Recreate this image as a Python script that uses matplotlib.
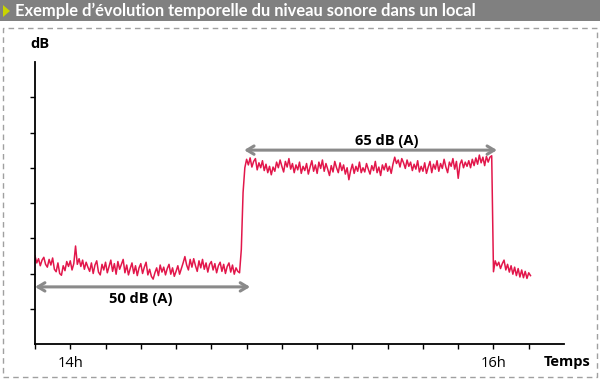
import numpy as np
import matplotlib
matplotlib.use('Agg')
import matplotlib.pyplot as plt
from matplotlib.patches import Rectangle, Polygon

plt.rcParams['font.family'] = ['Open Sans', 'DejaVu Sans']

# sound level, one sample every 30 s starting 13h50 (arbitrary vertical units)
step_min = 0.5
level = [
    # quiet period
    2.50, 2.30, 2.42, 2.22, 2.38, 2.46, 2.26, 2.18, 2.40, 2.24,
    2.44, 2.12, 2.05, 2.30, 2.00, 1.95, 2.22, 2.08, 2.34, 2.20,
    2.36, 2.10, 2.28, 2.78, 2.26, 2.42, 2.20, 2.38, 2.12, 2.32,
    2.18, 2.06, 2.30, 2.00, 2.24, 2.36, 2.04, 1.96, 2.26, 2.10,
    2.32, 2.02, 2.20, 2.38, 2.06, 2.28, 1.98, 2.34, 2.12, 2.26,
    2.40, 2.02, 2.24, 1.96, 2.14, 2.30, 2.00, 2.22, 1.94, 2.16,
    2.28, 2.00, 2.18, 2.32, 1.96, 2.12, 1.92, 1.84, 2.02, 2.16,
    1.94, 2.24, 2.04, 2.18, 1.96, 2.14, 2.26, 1.98, 2.16, 1.92,
    2.06, 2.22, 1.98, 2.14, 2.30, 2.48, 2.24, 2.10, 2.40, 2.18,
    2.42, 2.22, 2.06, 2.36, 2.16, 2.40, 2.12, 2.30, 2.04, 2.26,
    2.34, 2.10, 2.28, 2.02, 2.22, 2.32, 2.06, 2.26, 2.00, 2.20,
    2.30, 2.04, 2.24, 1.98, 2.16, 2.06, 2.02, 2.68, 4.30,
    # loud period
    5.00, 5.24, 5.08, 5.28, 5.02, 5.18, 5.26, 4.94, 5.14, 5.00,
    5.20, 4.92, 5.10, 4.86, 5.04, 4.80, 5.02, 4.90, 5.16, 5.00,
    5.22, 5.04, 4.88, 5.18, 5.02, 5.26, 4.96, 5.12, 4.86, 5.08,
    4.94, 5.16, 4.84, 5.04, 4.92, 5.12, 4.82, 5.02, 5.20, 4.90,
    5.08, 4.84, 5.16, 4.98, 5.22, 4.90, 5.12, 4.96, 4.78, 5.06,
    4.88, 5.18, 5.00, 4.86, 5.14, 4.92, 5.08, 4.82, 5.00, 4.66,
    4.92, 5.10, 4.84, 5.04, 4.90, 5.16, 4.86, 5.00, 4.88, 5.12,
    4.96, 4.82, 5.06, 4.92, 5.18, 4.86, 5.02, 4.78, 5.08, 4.94,
    5.12, 4.90, 5.04, 4.84, 5.10, 5.30, 5.12, 5.22, 5.02, 5.26,
    5.14, 4.98, 5.22, 5.04, 5.16, 4.92, 5.10, 4.96, 5.20, 4.88,
    5.04, 4.90, 5.14, 4.84, 5.02, 5.18, 4.86, 5.10, 4.96, 5.20,
    4.90, 5.12, 4.98, 5.24, 5.02, 4.86, 5.16, 5.04, 5.26, 4.96,
    5.18, 4.70, 5.10, 5.22, 5.00, 5.16, 5.04, 5.20, 5.00, 5.24,
    5.06, 5.28, 5.10, 5.36, 5.14, 5.30, 5.06, 5.32, 5.16, 5.30,
    5.34,
    # quiet again
    2.05, 2.36, 2.22, 2.32, 2.14, 2.28, 2.38, 2.10, 2.26, 2.04,
    2.22, 1.98, 2.18, 1.94, 2.14, 1.90, 2.10, 1.88, 2.06, 1.86,
    2.02, 1.94,
]
t = np.arange(len(level)) * step_min

x_ticks = list(range(0, 150, 10))
x_labels = {10: '14h', 130: '16h'}
y_ticks = [1, 2, 3, 4, 5, 6, 7]

# spans marked with arrows: (start, end, height, label)
quiet_span = (0, 61, 1.62, '50 dB (A)')
loud_span = (59.3, 131, 5.5, '65 dB (A)')

red = '#e2174b'
grey = '#8a8a8a'

fig = plt.figure(figsize=(6, 3.8), dpi=100)

# title band
fig.patches.append(Rectangle((0, 1 - 21 / 380), 1, 21 / 380, transform=fig.transFigure,
                             facecolor='#808080', edgecolor='none', zorder=0))
fig.patches.append(Polygon([(3 / 600, 1 - 5 / 380), (3 / 600, 1 - 17 / 380), (10 / 600, 1 - 11 / 380)],
                           closed=True, transform=fig.transFigure, facecolor='#c8d400',
                           edgecolor='none', zorder=1))
fig.text(15 / 600, 1 - 11 / 380, 'Exemple d\u2019évolution temporelle du niveau sonore dans un local',
         color='white', fontsize=11.9, fontweight='bold', va='center', ha='left',
         family=['Lato', 'DejaVu Sans'])

# dashed frame
fig.patches.append(Rectangle((2.5 / 600, 3 / 380), 594.5 / 600, 349 / 380, transform=fig.transFigure,
                             facecolor='none', edgecolor='#a0a0a0', lw=1, ls=(0, (4, 3))))

ax = fig.add_axes([35 / 600, 1 - 344 / 380, 529 / 600, 282 / 380])
ax.plot(t, level, color=red, lw=1.1)

ax.set_xlim(0, 150)
ax.set_ylim(0, 8)
ax.spines['top'].set_visible(False)
ax.spines['right'].set_visible(False)
for s in ('left', 'bottom'):
    ax.spines[s].set_linewidth(1.3)
ax.set_xticks(x_ticks)
ax.set_xticklabels([x_labels.get(v, '') for v in x_ticks], fontsize=10.5)
ax.set_yticks(y_ticks)
ax.set_yticklabels([])
ax.tick_params(direction='out', length=3.5, width=1, pad=5)

for x0, x1, y, lab in (quiet_span, loud_span):
    ax.annotate('', xy=(x0, y), xytext=(x1, y),
                arrowprops=dict(arrowstyle='<->,head_length=0.5,head_width=0.3', color=grey, lw=2.2,
                                shrinkA=0, shrinkB=0))
ax.text((quiet_span[0] + quiet_span[1]) / 2 - 0.6, quiet_span[2] - 0.33, quiet_span[3],
        ha='center', va='center', fontsize=10.5, fontweight='bold')
ax.text((loud_span[0] + loud_span[1]) / 2 + 4.7, loud_span[2] + 0.26, loud_span[3],
        ha='center', va='center', fontsize=10.5, fontweight='bold')

fig.text(40 / 600, 1 - 44 / 380, 'dB', fontsize=10.5, fontweight='bold', ha='center', va='center')
fig.text(567 / 600, 1 - 362 / 380, 'Temps', fontsize=10.5, fontweight='bold', ha='center', va='center')

fig.savefig('out.png', dpi=100)
